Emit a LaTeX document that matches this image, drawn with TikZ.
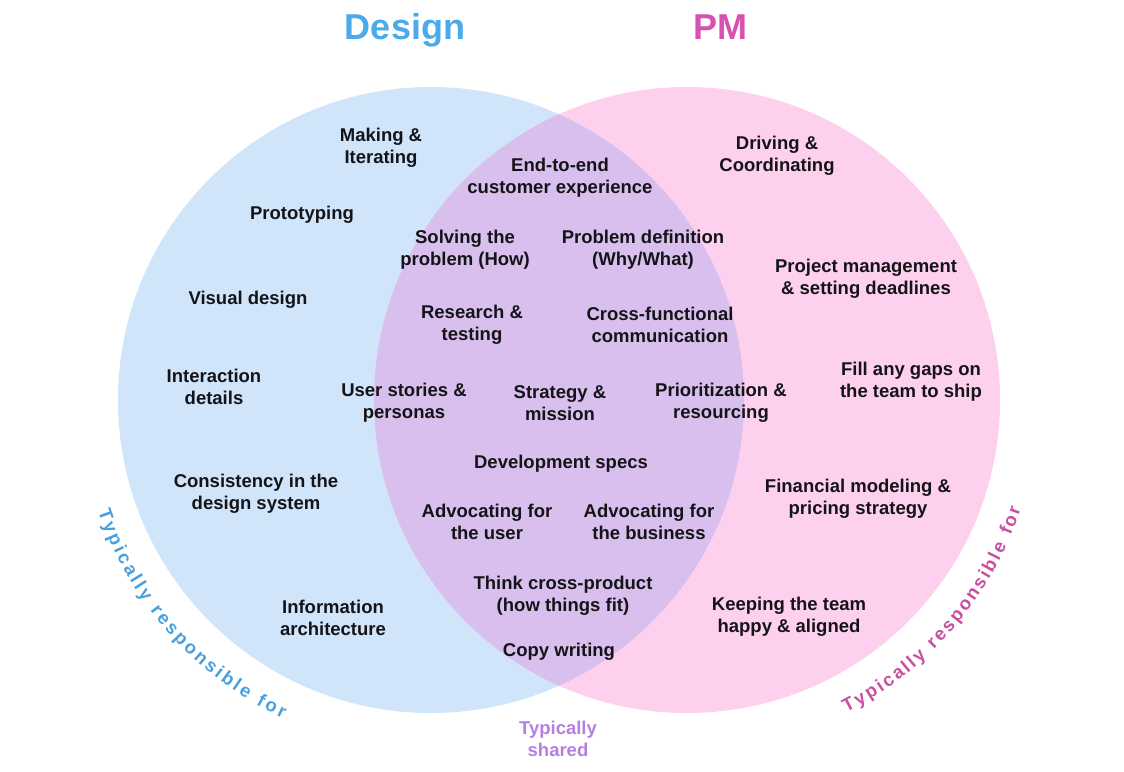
\documentclass[tikz,border=0pt]{standalone}
\usepackage{fontspec}
\setmainfont{Liberation Sans}
\usepackage{tikz}
\usetikzlibrary{decorations.text}
\usepackage{xcolor}
\definecolor{desfill}{RGB}{208,228,250}
\definecolor{pmfill}{RGB}{253,208,238}
\definecolor{bothfill}{RGB}{217,191,238}
\definecolor{desc}{RGB}{74,170,234}
\definecolor{pmc}{RGB}{216,80,176}
\definecolor{sharedc}{RGB}{180,128,224}
\definecolor{desarc}{RGB}{72,160,222}
\definecolor{pmarc}{RGB}{200,80,160}
\definecolor{ink}{RGB}{20,20,24}
\newcommand{\arcfont}{\fontsize{18.5}{22}\selectfont\bfseries}
\tikzset{
  item/.style  ={font=\fontsize{18.5}{22}\selectfont\bfseries, text=ink,
                 align=center, inner sep=0pt},
  ttl/.style   ={font=\fontsize{36}{40}\selectfont\bfseries, inner sep=0pt,
                 anchor=base},
  shr/.style   ={font=\fontsize{18.5}{22}\selectfont\bfseries, text=sharedc,
                 align=center, inner sep=0pt},
  arctxt/.style={decorate, decoration={text along path, text align={fit to path}}},
}

\begin{document}
\begin{tikzpicture}[x=1pt,y=-1pt]
  \useasboundingbox (0,0) rectangle (1124,771);
  % circles
  \fill[desfill] (431,400) circle[radius=313];
  \fill[pmfill]  (687,400) circle[radius=313];
  \begin{scope}
    \clip (431,400) circle[radius=313];
    \fill[bothfill] (687,400) circle[radius=313];
  \end{scope}
  % titles
  \node[ttl, text=desc] (design) at (405,39) {Design};
  \node[ttl, text=pmc]  (pm)     at (720,39) {PM};
  % design only
  \node[item] (making)  at (381,148) {Making \&\\Iterating};
  \node[item] (proto)   at (302,215) {Prototyping};
  \node[item] (visual)  at (248,300) {Visual design};
  \node[item] (interact) at (214,387) {Interaction\\details};
  \node[item] (consist) at (256,494) {Consistency in the\\design system};
  \node[item] (infoarch) at (333,618) {Information\\architecture};
  % shared
  \node[item] (e2e)     at (560,178) {End-to-end\\customer experience};
  \node[item] (solve)   at (465,250) {Solving the\\problem (How)};
  \node[item] (probdef) at (643,250) {Problem definition\\(Why/What)};
  \node[item] (research) at (472,325) {Research \&\\testing};
  \node[item] (xfunc)   at (660,325) {Cross-functional\\communication};
  \node[item] (stories) at (404,403) {User stories \&\\personas};
  \node[item] (strat)   at (560,403) {Strategy \&\\mission};
  \node[item] (prior)   at (721,403) {Prioritization \&\\resourcing};
  \node[item] (devspec) at (561,464) {Development specs};
  \node[item] (advuser) at (487,522) {Advocating for\\the user};
  \node[item] (advbiz)  at (649,522) {Advocating for\\the business};
  \node[item] (xprod)   at (563,596) {Think cross-product\\(how things fit)};
  \node[item] (copyw)   at (559,652) {Copy writing};
  % pm only
  \node[item] (driving) at (777,156) {Driving \&\\Coordinating};
  \node[item] (projm)   at (866,279) {Project management\\\& setting deadlines};
  \node[item] (gaps)    at (911,382) {Fill any gaps on\\the team to ship};
  \node[item] (finance) at (858,499) {Financial modeling \&\\pricing strategy};
  \node[item] (happy)   at (789,617) {Keeping the team\\happy \& aligned};
  % bottom labels
  \node[shr] (shared) at (558,739) {Typically\\shared};
  \path[arctxt, decoration={text={|\arcfont\color{desarc}|Typically responsible for}}]
    (431,400) ++(161.5:351) arc[start angle=161.5, end angle=115, radius=351];
  \path[arctxt, decoration={text={|\arcfont\color{pmarc}|Typically responsible for}}]
    (687,400) ++(63:351) arc[start angle=63, end angle=18, radius=351];
\end{tikzpicture}
\end{document}
